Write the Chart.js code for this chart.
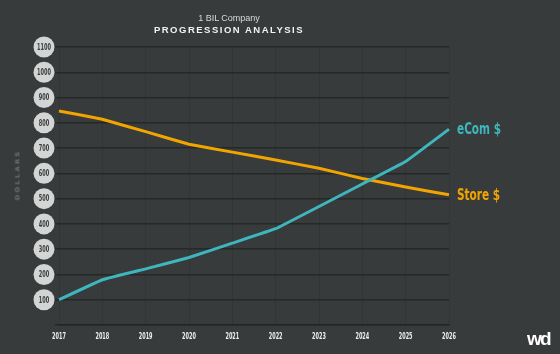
<!DOCTYPE html>
<html>
<head>
<meta charset="utf-8">
<script src="https://cdn.jsdelivr.net/npm/chart.js@4"></script>
<style>
  html, body { margin: 0; padding: 0; background: #373b3b; }
  #wrap { position: relative; width: 560px; height: 354px; overflow: hidden; }
  #chart { position: absolute; left: 0; top: 0; }
  .txt { position: absolute; white-space: nowrap; }
  #kicker { left: 229px; top: 13px; transform: translateX(-50%); font: 9px "Liberation Sans", Arial, sans-serif; color: #d8dada; }
  #title { left: 229px; top: 24px; transform: translateX(-50%); font: bold 9.5px "Liberation Sans", Arial, sans-serif; letter-spacing: 1.5px; color: #f2f2f2; }
  #ylab { left: 17px; top: 175px; transform: translate(-50%, -50%) rotate(-90deg) scaleY(0.8); font: bold 7.5px "DejaVu Sans Condensed", sans-serif; letter-spacing: 2.2px; color: #6b7070; }
  #logo { left: 527px; top: 328px; font: bold 19px "Liberation Sans", Arial, sans-serif; letter-spacing: -1.8px; color: #ffffff; }
</style>
</head>
<body>
<div id="wrap">
  <canvas id="chart" width="560" height="354"></canvas>
  <div class="txt" id="kicker">1 BIL Company</div>
  <div class="txt" id="title">PROGRESSION ANALYSIS</div>
  <div class="txt" id="ylab">DOLLARS</div>
  <div class="txt" id="logo">wd</div>
</div>
<script>
// chart data
var years = ['2017', '2018', '2019', '2020', '2021', '2022', '2023', '2024', '2025', '2026'];
var storeValues = [847, 814, 765, 715, 684, 653, 620, 580, 546, 515];
var ecomValues = [100, 179, 222, 267, 324, 381, 469, 558, 647, 775];
var yTicks = [100, 200, 300, 400, 500, 600, 700, 800, 900, 1000, 1100];
var seriesNames = ['eCom $', 'Store $'];

var TEAL = '#3fb6be';
var ORANGE = '#f2a500';
var condensed = '"DejaVu Sans Condensed", "Liberation Sans", sans-serif';

// draw text squeezed sideways to mimic the narrow display face
function narrowText(ctx, text, x, y, squeeze) {
    ctx.save();
    ctx.translate(x, y);
    ctx.scale(squeeze, 1);
    ctx.fillText(text, 0, 0);
    ctx.restore();
}

var decorPlugin = {
    id: 'decor',
    beforeDraw: function(chart) {
        var ctx = chart.ctx;
        var y = chart.scales.y;
        ctx.save();
        yTicks.forEach(function(v) {
            var py = y.getPixelForValue(v);
            ctx.beginPath();
            ctx.arc(44, py, 10.5, 0, Math.PI * 2);
            ctx.fillStyle = '#d3d4d4';
            ctx.fill();
            ctx.fillStyle = '#3a3d3d';
            ctx.font = 'bold 9px ' + condensed;
            ctx.textAlign = 'center';
            ctx.textBaseline = 'middle';
            narrowText(ctx, String(v), 44, py + 0.5, 0.62);
        });
        // year labels under the axis
        var x = chart.scales.x;
        ctx.fillStyle = '#eeeeee';
        ctx.font = 'bold 9.5px ' + condensed;
        ctx.textAlign = 'center';
        ctx.textBaseline = 'middle';
        years.forEach(function(yr, i) {
            narrowText(ctx, yr, x.getPixelForValue(i), 337, 0.58);
        });
        ctx.restore();
    },
    afterDatasetsDraw: function(chart) {
        var ctx = chart.ctx;
        ctx.save();
        ctx.font = 'bold 15px ' + condensed;
        ctx.textAlign = 'left';
        ctx.textBaseline = 'middle';
        chart.data.datasets.forEach(function(ds, i) {
            var meta = chart.getDatasetMeta(i);
            var last = meta.data[meta.data.length - 1];
            ctx.fillStyle = ds.borderColor;
            narrowText(ctx, seriesNames[i], last.x + 8, last.y + 1, 0.78);
        });
        ctx.restore();
    }
};

new Chart(document.getElementById('chart'), {
    type: 'line',
    data: {
        labels: years,
        datasets: [
            {
                label: seriesNames[0],
                data: ecomValues,
                borderColor: TEAL,
                borderWidth: 3,
                pointRadius: 0,
                tension: 0.05
            },
            {
                label: seriesNames[1],
                data: storeValues,
                borderColor: ORANGE,
                borderWidth: 3,
                pointRadius: 0,
                tension: 0.05
            }
        ]
    },
    options: {
        responsive: false,
        animation: false,
        layout: { padding: { top: 47, right: 111, left: 0, bottom: 0 } },
        plugins: {
            legend: { display: false },
            tooltip: { enabled: false }
        },
        scales: {
            x: {
                offset: false,
                grid: { color: 'rgba(0,0,0,0.1)', lineWidth: 1, drawTicks: false },
                border: { color: '#242626', width: 1.5 },
                ticks: { display: false },
                afterFit: function(s) { s.height = 29; }
            },
            y: {
                min: 0,
                max: 1100,
                ticks: { display: false, stepSize: 100 },
                grid: { color: '#262828', lineWidth: 1.5, drawTicks: true, tickLength: 4 },
                border: { display: false },
                afterFit: function(s) { s.width = 59; }
            }
        }
    },
    plugins: [decorPlugin]
});
</script>
</body>
</html>
